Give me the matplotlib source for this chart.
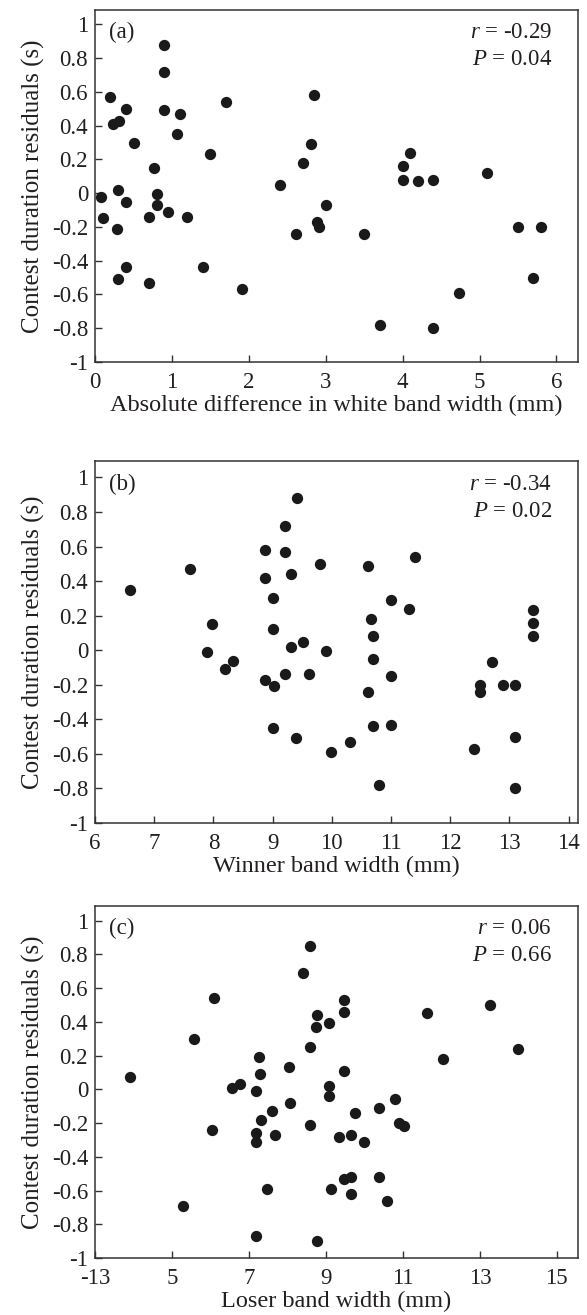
import matplotlib
matplotlib.use('AGG')

import matplotlib.pyplot as plt

# panel (a): absolute difference in white band width
diff_x = [0.90, 0.90, 0.20, 0.40, 0.23, 0.31, 0.90, 1.10, 1.06, 0.51, 1.70, 1.50,
          0.77, 0.08, 0.30, 0.40, 0.80, 0.81, 0.10, 0.70, 0.95, 1.20, 0.29, 0.40,
          0.30, 0.70, 1.40, 1.91, 2.41, 2.70, 2.81, 2.85, 3.00, 2.61, 2.89, 2.91,
          5.10, 4.09, 4.00, 4.00, 4.20, 4.40, 3.50, 5.50, 5.80, 5.70, 4.73, 3.70, 4.40]
diff_y = [0.88, 0.72, 0.57, 0.50, 0.41, 0.43, 0.49, 0.47, 0.35, 0.30, 0.54, 0.23,
          0.15, -0.02, 0.02, -0.05, -0.005, -0.07, -0.15, -0.14, -0.11, -0.14, -0.21, -0.44,
          -0.51, -0.53, -0.44, -0.57, 0.05, 0.18, 0.29, 0.58, -0.07, -0.24, -0.17, -0.20,
          0.12, 0.24, 0.16, 0.08, 0.07, 0.08, -0.24, -0.20, -0.20, -0.50, -0.59, -0.78, -0.80]

# panel (b): winner band width
win_x = [6.59, 7.61, 7.98, 7.90, 8.19, 8.33, 8.87, 8.87, 9.21, 9.21, 9.31, 9.41,
         9.00, 9.00, 9.31, 9.51, 9.80, 9.90, 8.87, 9.03, 9.21, 9.61, 9.00, 9.39, 9.99,
         10.61, 11.41, 11.00, 11.30, 10.66, 10.70, 10.70, 11.00, 10.61, 10.70, 11.00,
         10.30, 10.80, 12.70, 12.50, 12.50, 12.90, 13.10, 13.40, 13.40, 13.40, 12.40,
         13.10, 13.10]
win_y = [0.35, 0.47, 0.15, -0.01, -0.11, -0.06, 0.58, 0.42, 0.72, 0.57, 0.44, 0.88,
         0.30, 0.12, 0.02, 0.05, 0.50, -0.005, -0.17, -0.21, -0.14, -0.14, -0.45, -0.51, -0.59,
         0.49, 0.54, 0.29, 0.24, 0.18, 0.08, -0.05, -0.15, -0.24, -0.44, -0.43,
         -0.53, -0.78, -0.07, -0.20, -0.24, -0.20, -0.20, 0.23, 0.16, 0.08, -0.57,
         -0.50, -0.80]

# panel (c): loser band width
lose_x = [3.92, 5.57, 6.08, 6.05, 5.29, 6.56, 6.78, 7.18, 7.27, 7.29, 7.32, 7.59,
          7.18, 7.18, 7.68, 7.47, 7.18, 8.04, 8.06, 8.40, 8.59, 8.78, 8.73, 9.09,
          8.59, 8.59, 9.09, 9.09, 9.12, 8.78,
          9.46, 9.46, 9.46, 11.62, 13.27, 12.03, 13.99, 10.79, 10.38, 9.76, 10.90,
          11.02, 9.35, 9.66, 9.98, 9.46, 9.66, 10.38, 9.66, 10.58]
lose_y = [0.07, 0.30, 0.54, -0.24, -0.69, 0.01, 0.03, -0.01, 0.19, 0.09, -0.18, -0.13,
          -0.26, -0.31, -0.27, -0.59, -0.87, 0.13, -0.08, 0.69, 0.85, 0.44, 0.37, 0.39,
          0.25, -0.21, 0.02, -0.04, -0.59, -0.90,
          0.53, 0.46, 0.11, 0.45, 0.50, 0.18, 0.24, -0.06, -0.11, -0.14, -0.20,
          -0.22, -0.28, -0.27, -0.31, -0.53, -0.52, -0.52, -0.62, -0.66]

y_ticks = [-1, -0.8, -0.6, -0.4, -0.2, 0, 0.2, 0.4, 0.6, 0.8, 1]
y_labels = ['-1', '-0.8', '-0.6', '-0.4', '-0.2', '0', '0.2', '0.4', '0.6', '0.8', '1']

panels = [
  dict(x=diff_x, y=diff_y, tag='(a)', r='-0.29', p='0.04',
       xlim=(0, 6.28), xticks=[0, 1, 2, 3, 4, 5, 6],
       xticklabels=['0', '1', '2', '3', '4', '5', '6'],
       xlabel='Absolute difference in white band width (mm)', ylim=(-1, 1.085),
       box=(10, 362)),
  dict(x=win_x, y=win_y, tag='(b)', r='-0.34', p='0.02',
       xlim=(6, 14.16), xticks=[6, 7, 8, 9, 10, 11, 12, 13, 14],
       xticklabels=['6', '7', '8', '9', '10', '11', '12', '13', '14'],
       xlabel='Winner band width (mm)', ylim=(-1, 1.095),
       box=(461, 823)),
  dict(x=lose_x, y=lose_y, tag='(c)', r='0.06', p='0.66',
       xlim=(3, 15.55), xticks=[3, 5, 7, 9, 11, 13, 15],
       xticklabels=['-13', '5', '7', '9', '11', '13', '15'],
       xlabel='Loser band width (mm)', ylim=(-1, 1.086),
       box=(906, 1258)),
]

plt.rcParams['font.family'] = 'Liberation Serif'
plt.rcParams['mathtext.fontset'] = 'custom'
plt.rcParams['mathtext.rm'] = 'Liberation Serif'
plt.rcParams['mathtext.it'] = 'Liberation Serif:italic'

W, H = 587, 1315
fig = plt.figure(figsize=(W / 100, H / 100), dpi=100)
ink = '#1a1a1a'
txt = '#231f20'

for p in panels:
  top, bottom = p['box']
  ax = fig.add_axes([95 / W, 1 - bottom / H, (578 - 95) / W, (bottom - top) / H])
  ax.scatter(p['x'], p['y'], s=66, color=ink, linewidths=0, zorder=3)
  ax.set_xlim(*p['xlim'])
  ax.set_ylim(*p['ylim'])
  ax.set_xticks(p['xticks'])
  ax.set_xticklabels(p['xticklabels'])
  ax.set_yticks(y_ticks)
  ax.set_yticklabels(y_labels)
  ax.tick_params(direction='in', length=5, width=1, labelsize=16.5, colors='#333333',
                 labelcolor=txt)
  ax.tick_params(axis='x', pad=7)
  ax.tick_params(axis='y', pad=5)
  for side in ax.spines.values():
    side.set_linewidth(1.1)
    side.set_color('#333333')
  ax.set_xlabel(p['xlabel'], fontsize=17.5, color=txt, labelpad=1.5)
  ax.set_ylabel('Contest duration residuals (s)', fontsize=18, color=txt, labelpad=5)
  ax.text(0.029, 0.965, p['tag'], transform=ax.transAxes, ha='left', va='top',
          fontsize=16.5, color=txt)
  ax.text(0.946, 0.965, '$r$ = ' + p['r'], transform=ax.transAxes, ha='right', va='top',
          fontsize=16.5, color=txt)
  ax.text(0.946, 0.89, '$P$ = ' + p['p'], transform=ax.transAxes, ha='right', va='top',
          fontsize=16.5, color=txt)

fig.savefig('out.png', dpi=100)
